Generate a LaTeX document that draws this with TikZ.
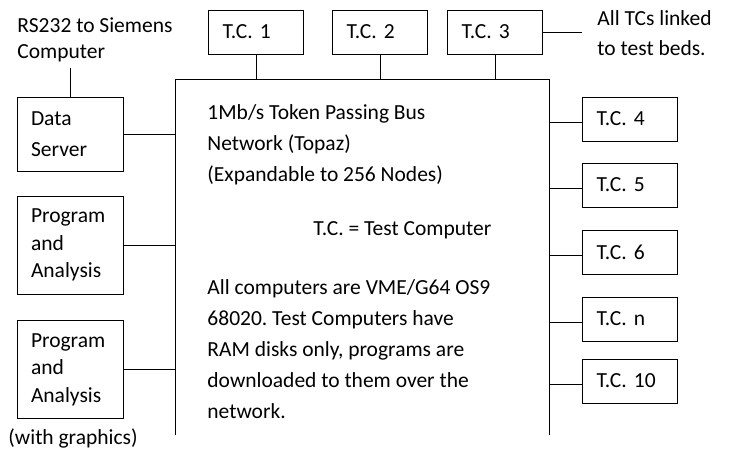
\documentclass[tikz,border=0pt]{standalone}
\usepackage{fontspec}
\setmainfont{Carlito}
\frenchspacing
\tikzset{
  tcbox/.style={draw, line width=0.9pt, inner xsep=14pt, text width=67pt, align=left, minimum height=44pt},
  hostbox/.style={draw, line width=0.9pt, inner xsep=14pt, text width=78pt, align=left},
  note/.style={inner sep=0pt, align=left, anchor=north west},
}
\begin{document}
\begin{tikzpicture}[x=1pt, y=-1pt, line width=0.9pt, font=\fontsize{21.5}{31}\selectfont]
            \useasboundingbox (0,0) rectangle (733,459);
            % Bus network frame, open at the bottom
            \node[minimum width=374pt, minimum height=355pt, inner sep=0pt, anchor=north west] (bus) at (175,79) {};
            \draw (bus.south west) -- (bus.north west) -- (bus.north east) -- (bus.south east);
            % Text inside the frame
            \node[note] (bustxt) at (207,104) {1Mb/s Token Passing Bus\\Network (Topaz)\\(Expandable to 256 Nodes)};
            \node[note] (deftxt) at (313,221) {T.C. = Test Computer};
            \node[note] (alltxt) at (207,279) {All computers are VME/G64 OS9\\68020. Test Computers have\\RAM disks only, programs are\\downloaded to them over the\\network.};
            % Test computers on top
            \node[tcbox] (tc1) at (256,32) {T.C. 1};
            \node[tcbox] (tc2) at (380,32) {T.C. 2};
            \node[tcbox] (tc3) at (495,32) {T.C. 3};
            % Test computers on the right
            \node[tcbox] (tc4) at (630,119) {T.C. 4};
            \node[tcbox] (tc5) at (630,185) {T.C. 5};
            \node[tcbox] (tc6) at (630,252) {T.C. 6};
            \node[tcbox] (tcn) at (630,319) {T.C. n};
            \node[tcbox] (tc10) at (630,381) {T.C. 10};
            % Hosts on the left
            \node[hostbox, minimum height=74pt] (ds) at (70,134) {Data\\Server};
            \node[hostbox, minimum height=98pt, font=\fontsize{21.5}{27.5}\selectfont] (pa1) at (70,245) {Program\\and\\Analysis};
            \node[hostbox, minimum height=98pt, font=\fontsize{21.5}{27.5}\selectfont] (pa2) at (70,369.5) {Program\\and\\Analysis};
            % Free labels
            \node[note, font=\fontsize{21.5}{26}\selectfont] (rs) at (17,17) {RS232 to Siemens\\Computer};
            \node[note, font=\fontsize{21.5}{30}\selectfont] (beds) at (597,10) {All TCs linked\\to test beds.};
            \node[anchor=north west, inner sep=0pt] (gfx) at (8,428) {(with graphics)};
            % Connectors
            \draw (ds.north) -- ++(0,-29);
            \draw (tc3.east) -- (tc3.east -| tc4.west);
            \draw (ds.east) -- (ds.east -| bus.west);
            \draw (pa1.east) -- (pa1.east -| bus.west);
            \draw (pa2.east) -- (pa2.east -| bus.west);
            \foreach \t in {tc1,tc2,tc3}
              \draw (\t.south) -- (\t.south |- bus.north);
            \foreach \t in {tc4,tc5,tc6,tcn,tc10}
              \draw ([yshift=-3pt]\t.west) -- ([yshift=-3pt]\t.west -| bus.east);
    \end{tikzpicture}
\end{document}
